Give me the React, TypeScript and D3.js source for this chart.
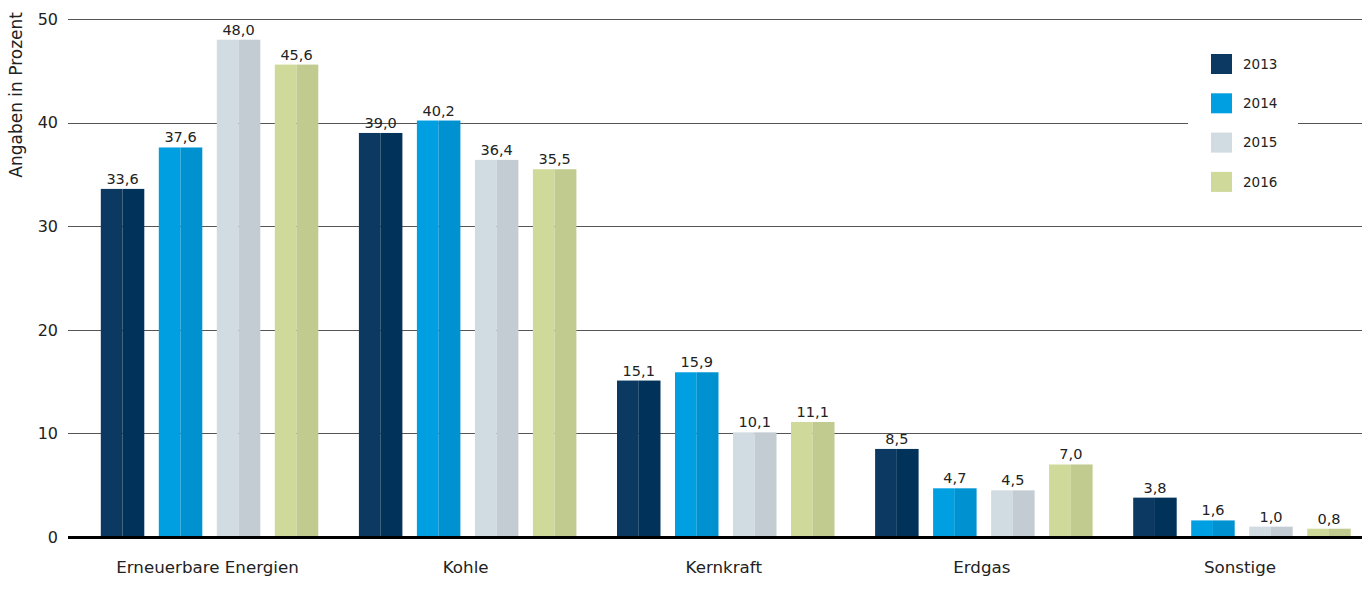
import React from "react";
import * as d3 from "d3";

const categories = ["Erneuerbare Energien", "Kohle", "Kernkraft", "Erdgas", "Sonstige"];
const years = ["2013", "2014", "2015", "2016"];
const values2013 = [33.6, 39.0, 15.1, 8.5, 3.8];
const values2014 = [37.6, 40.2, 15.9, 4.7, 1.6];
const values2015 = [48.0, 36.4, 10.1, 4.5, 1.0];
const values2016 = [45.6, 35.5, 11.1, 7.0, 0.8];
const yTicks = [0, 10, 20, 30, 40, 50];
const yTitle = "Angaben in Prozent";

const series = [values2013, values2014, values2015, values2016];
const lightColors = ["#0b3961", "#009fe2", "#d1dce2", "#cfd999"];
const darkColors = ["#01335a", "#0092d0", "#c2ccd2", "#c1ca8f"];

const W = 1369;
const H = 591;
const FONT = "'DejaVu Sans', sans-serif";

export default function App() {
  const y = d3.scaleLinear().domain([0, 50]).range([537, 19]);
  const x0 = d3.scaleBand<string>().domain(categories).range([80.5, 1371]).paddingInner(0).paddingOuter(0);
  const groupW = x0.bandwidth();
  const innerW = 217.5;
  const innerOff = (groupW - innerW) / 2;
  const x1 = d3.scaleBand<string>().domain(years).range([0, innerW]).paddingInner(0.25).paddingOuter(0);
  const fmt = (v: number) => v.toFixed(1).replace(".", ",");

  return (
    <svg width={W} height={H} style={{ position: "absolute", left: 0, top: 0, background: "#fff" }}>
      {yTicks.filter((t) => t !== 0).map((t) => (
        <line key={t} x1={68} x2={1362} y1={Math.round(y(t)) + 0.5} y2={Math.round(y(t)) + 0.5} stroke="#555" strokeWidth={1} />
      ))}
      {yTicks.map((t) => (
        <text key={"l" + t} x={58} y={y(t)} dy="0.36em" textAnchor="end" fontFamily={FONT} fontSize={16} fill="#222">
          {t}
        </text>
      ))}
      <text transform={`translate(22,12) rotate(-90)`} textAnchor="end" fontFamily={FONT} fontSize={17} fill="#222">
        {yTitle}
      </text>
      {categories.map((c, ci) => (
        <g key={c} transform={`translate(${x0(c)! + innerOff},0)`}>
          {years.map((yr, si) => {
            const v = series[si][ci];
            const bx = x1(yr)!;
            const bw = x1.bandwidth();
            const top = y(v);
            const h = y(0) - top;
            return (
              <g key={yr}>
                <rect x={bx} y={top} width={bw / 2} height={h} fill={lightColors[si]} />
                <rect x={bx + bw / 2} y={top} width={bw / 2} height={h} fill={darkColors[si]} />
                <text x={bx + bw / 2} y={top - 5} textAnchor="middle" fontFamily={FONT} fontSize={14.5} fill="#222">
                  {fmt(v)}
                </text>
              </g>
            );
          })}
          <text x={innerW / 2 - 2} y={573} textAnchor="middle" fontFamily={FONT} fontSize={16.7} fill="#222">
            {c}
          </text>
        </g>
      ))}
      <line x1={68} x2={1362} y1={537.5} y2={537.5} stroke="#000" strokeWidth={3} />
      <rect x={1188} y={40} width={110} height={165} fill="#fff" />
      {years.map((yr, i) => (
        <g key={yr} transform={`translate(1211,${54 + i * 39.3})`}>
          <rect x={0} y={0} width={21} height={20} fill={lightColors[i]} />
          <text x={32} y={10} dy="0.36em" fontFamily={FONT} fontSize={13.5} fill="#222">
            {yr}
          </text>
        </g>
      ))}
    </svg>
  );
}
